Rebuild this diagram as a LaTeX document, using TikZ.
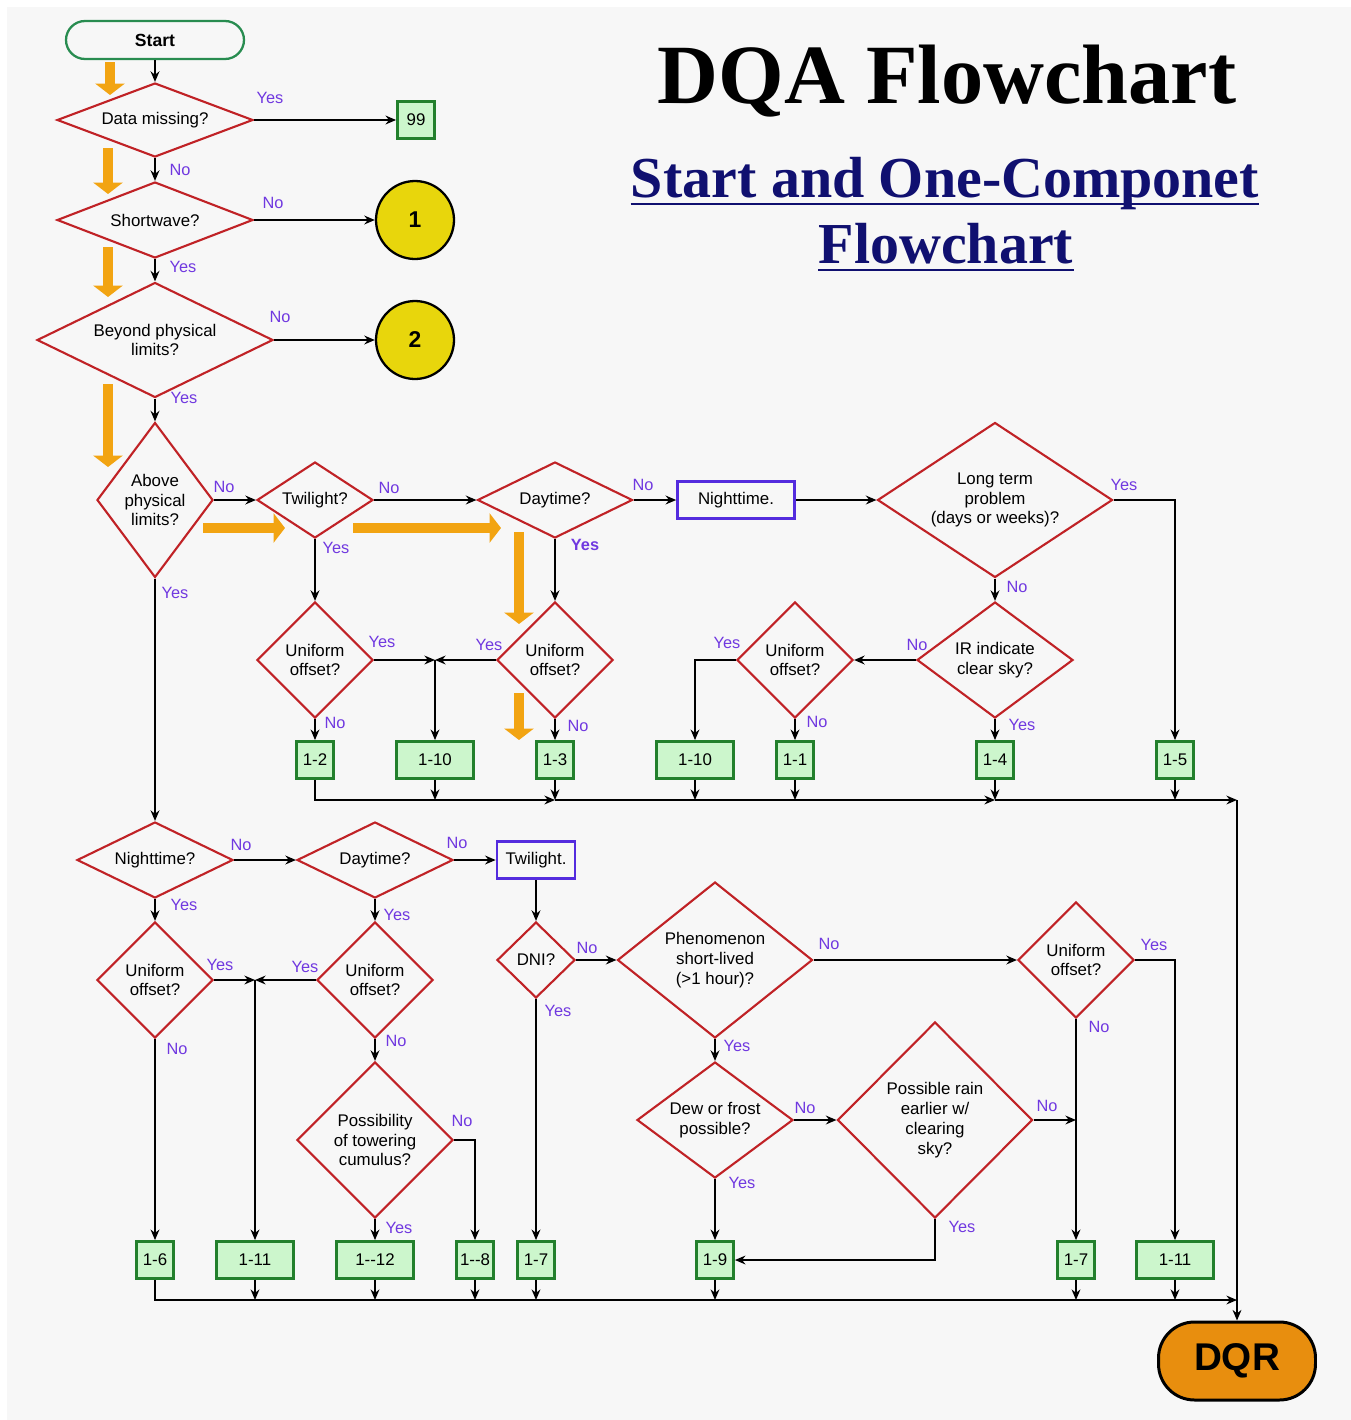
\documentclass[tikz,border=0pt]{standalone}
\usepackage{fontspec}
\setmainfont{Liberation Sans}
\newfontfamily\titlefont{Liberation Serif}
\usetikzlibrary{shapes.geometric,arrows.meta}
\definecolor{dqbg}{RGB}{247,247,247}
\definecolor{dqred}{RGB}{192,34,38}
\definecolor{dqgreen}{RGB}{34,128,44}
\definecolor{dqgreenfill}{RGB}{204,246,204}
\definecolor{dqstart}{RGB}{40,140,80}
\definecolor{dqblue}{RGB}{84,44,222}
\definecolor{dqlbl}{RGB}{112,56,224}
\definecolor{dqyellow}{RGB}{232,214,12}
\definecolor{dqorange}{RGB}{232,142,14}
\definecolor{dqhint}{RGB}{242,164,18}
\definecolor{dqnavy}{RGB}{16,16,112}
\begin{document}
\begin{tikzpicture}[x=0.02cm,y=-0.02cm,
  every node/.style={font=\fontsize{9.6}{11.3}\selectfont},
  dia/.style 2 args={diamond,draw=dqred,line width=1.2pt,inner sep=0pt,align=center,
    minimum width=#1*0.02cm,minimum height=#2*0.02cm,
    /utils/exec={\pgfmathsetmacro\dqaasp{#1/#2}},aspect=\dqaasp},
  res/.style={rectangle,draw=dqgreen,fill=dqgreenfill,line width=1.6pt,inner sep=1pt,
    minimum width=0.74cm,minimum height=0.74cm},
  wide/.style={res,minimum width=1.54cm},
  per/.style={rectangle,draw=dqblue,line width=1.5pt,inner sep=1pt,minimum height=0.75cm},
  num/.style={circle,draw=black,fill=dqyellow,line width=1.3pt,minimum size=1.56cm,
    inner sep=0pt,font=\fontsize{13}{13}\selectfont\bfseries},
  term/.style={rectangle,draw=dqstart,line width=1.3pt,rounded corners=0.38cm,
    minimum width=3.56cm,minimum height=0.76cm,font=\fontsize{10}{12}\selectfont\bfseries},
  lbl/.style={text=dqlbl,inner sep=0pt,font=\fontsize{9.3}{11}\selectfont},
  arr/.style={line width=1.3pt,-{Stealth[length=6pt,width=5pt]}},
  hint/.style={draw=dqhint,line width=5.5pt,-{Triangle[width=16.5pt,length=6.5pt]}},
  sub/.style={text=dqnavy,inner sep=0pt,anchor=base,
    font=\titlefont\bfseries\fontsize{33}{33}\selectfont}]

  \fill[white] (0,0) rectangle (1351,1420);
  \fill[dqbg] (7,7) rectangle (1351,1420);
  \useasboundingbox (0,0) rectangle (1351,1420);

  \node[anchor=base,inner sep=0pt,font=\titlefont\bfseries\fontsize{48}{48}\selectfont] (ttl) at (947,103) {DQA Flowchart};
  \node[sub] (st1) at (945,197) {Start and One-Componet};
  \node[sub] (st2) at (946,263) {Flowchart};
  \draw[dqnavy,line width=1.6pt] ([yshift=-4pt]st1.base west) -- ([yshift=-4pt]st1.base east);
  \draw[dqnavy,line width=1.6pt] ([yshift=-4pt]st2.base west) -- ([yshift=-4pt]st2.base east);

  \node[term] (start) at (155,40) {Start};
  \node[dia={196}{74}] (dm) at (155,120) {Data missing?};
  \node[res] (b99) at (416,120) {99};
  \node[dia={196}{76}] (sw) at (155,220) {Shortwave?};
  \node[num] (c1) at (415,220) {1};
  \node[dia={236}{115}] (bp) at (155,340) {Beyond physical\\limits?};
  \node[num] (c2) at (415,340) {2};
  \node[dia={116}{155}] (ap) at (155,500) {Above\\physical\\limits?};
  \node[dia={116}{76}] (tw) at (315,500) {Twilight?};
  \node[dia={155}{76}] (dt) at (555,500) {Daytime?};
  \node[per,minimum width=2.34cm] (nt) at (736,500) {Nighttime.};
  \node[dia={235}{155}] (lt) at (995,500) {Long term\\problem\\(days or weeks)?};
  \node[dia={116}{116}] (ua) at (315,660) {Uniform\\offset?};
  \node[dia={116}{116}] (ub) at (555,660) {Uniform\\offset?};
  \node[dia={116}{116}] (uc) at (795,660) {Uniform\\offset?};
  \node[dia={156}{116}] (ir) at (995,660) {IR indicate\\clear sky?};

  \node[res] (b12) at (315,760) {1-2};
  \node[wide] (b110a) at (435,760) {1-10};
  \node[res] (b13) at (555,760) {1-3};
  \node[wide] (b110b) at (695,760) {1-10};
  \node[res] (b11) at (795,760) {1-1};
  \node[res] (b14) at (995,760) {1-4};
  \node[res] (b15) at (1175,760) {1-5};

  \node[dia={156}{76}] (nq) at (155,860) {Nighttime?};
  \node[dia={156}{76}] (dq) at (375,860) {Daytime?};
  \node[per,minimum width=1.56cm] (tb) at (536,860) {Twilight.};
  \node[dia={116}{116}] (ud) at (155,980) {Uniform\\offset?};
  \node[dia={116}{116}] (ue) at (375,980) {Uniform\\offset?};
  \node[dia={78}{76}] (dni) at (536,960) {DNI?};
  \node[dia={195}{156}] (ph) at (715,960) {Phenomenon\\short-lived\\(>1 hour)?};
  \node[dia={116}{116}] (uf) at (1076,960) {Uniform\\offset?};
  \node[dia={156}{156}] (pt) at (375,1140) {Possibility\\of towering\\cumulus?};
  \node[dia={156}{116}] (dw) at (715,1120) {Dew or frost\\possible?};
  \node[dia={195}{196}] (rn) at (935,1120) {Possible rain\\earlier w/\\clearing\\sky?};

  \node[res] (b16) at (155,1260) {1-6};
  \node[wide] (b111a) at (255,1260) {1-11};
  \node[wide] (b112) at (375,1260) {1-\kern0pt-12};
  \node[res] (b18) at (475,1260) {1-\kern0pt-8};
  \node[res] (b17a) at (536,1260) {1-7};
  \node[res] (b19) at (715,1260) {1-9};
  \node[res] (b17b) at (1076,1260) {1-7};
  \node[wide] (b111b) at (1175,1260) {1-11};

  \node[rectangle,draw=black,fill=dqorange,line width=1.7pt,rounded corners=0.72cm,
    minimum width=3.14cm,minimum height=1.56cm,
    font=\fontsize{22}{22}\selectfont\bfseries] (dqr) at (1237,1361) {DQR};

  \draw[arr] (start) -- (dm);
  \draw[arr] (dm.east) -- (b99.west) node[lbl] at (270,98) {Yes};
  \draw[arr] (dm.south) -- (sw.north) node[lbl] at (180,170) {No};
  \draw[arr] (sw.east) -- (c1.west) node[lbl] at (273,203) {No};
  \draw[arr] (sw.south) -- (bp.north) node[lbl] at (183,267) {Yes};
  \draw[arr] (bp.east) -- (c2.west) node[lbl] at (280,317) {No};
  \draw[arr] (bp.south) -- (ap.north) node[lbl] at (184,398) {Yes};
  \draw[arr] (ap.east) -- (tw.west) node[lbl] at (224,487) {No};
  \draw[arr] (ap.south) -- (nq.north) node[lbl] at (175,593) {Yes};
  \draw[arr] (tw.east) -- (dt.west) node[lbl] at (389,488) {No};
  \draw[arr] (tw.south) -- (ua.north) node[lbl] at (336,548) {Yes};
  \draw[arr] (dt.east) -- (nt.west) node[lbl] at (643,485) {No};
  \draw[arr] (dt.south) -- (ub.north) node[lbl,font=\fontsize{9.3}{11}\selectfont\bfseries] at (585,545) {Yes};
  \draw[arr] (nt.east) -- (lt.west);
  \draw[arr] (lt.east) -| (b15.north) node[lbl] at (1124,485) {Yes};
  \draw[arr] (lt.south) -- (ir.north) node[lbl] at (1017,587) {No};
  \draw[arr] (ir.west) -- (uc.east) node[lbl] at (917,645) {No};
  \draw[arr] (ir.south) -- (b14.north) node[lbl] at (1022,725) {Yes};
  \draw[arr] (uc.west) -| (b110b.north) node[lbl] at (727,643) {Yes};
  \draw[arr] (uc.south) -- (b11.north) node[lbl] at (817,722) {No};
  \coordinate (ja) at (b110a.north |- ua.east);
  \draw[arr] (ua.east) -- (ja) node[lbl] at (382,642) {Yes};
  \draw[arr] (ub.west) -- (ja) node[lbl] at (489,645) {Yes};
  \draw[arr] (ja) -- (b110a.north);
  \draw[arr] (ua.south) -- (b12.north) node[lbl] at (335,723) {No};
  \draw[arr] (ub.south) -- (b13.north) node[lbl] at (578,726) {No};

  \coordinate (bus1) at (1237,800);
  \draw[arr] (b12.south) |- (b13.south |- bus1);
  \draw[arr] (b13.south |- bus1) -- (b14.south |- bus1);
  \draw[arr] (b14.south |- bus1) -- (bus1);
  \foreach \b in {b110a,b13,b110b,b11,b14,b15}
    \draw[arr] (\b.south) -- (\b.south |- bus1);
  \draw[arr] (bus1) -- (dqr.north);

  \draw[arr] (nq.east) -- (dq.west) node[lbl] at (241,845) {No};
  \draw[arr] (nq.south) -- (ud.north) node[lbl] at (184,905) {Yes};
  \draw[arr] (dq.east) -- (tb.west) node[lbl] at (457,843) {No};
  \draw[arr] (dq.south) -- (ue.north) node[lbl] at (397,915) {Yes};
  \draw[arr] (tb.south) -- (dni.north);
  \draw[arr] (dni.east) -- (ph.west) node[lbl] at (587,948) {No};
  \draw[arr] (dni.south) -- (b17a.north) node[lbl] at (558,1011) {Yes};
  \draw[arr] (ph.east) -- (uf.west) node[lbl] at (829,944) {No};
  \draw[arr] (ph.south) -- (dw.north) node[lbl] at (737,1046) {Yes};
  \draw[arr] (uf.east) -| (b111b.north) node[lbl] at (1154,945) {Yes};
  \draw[arr] (uf.south) -- (b17b.north) node[lbl] at (1099,1027) {No};
  \draw[arr] (dw.east) -- (rn.west) node[lbl] at (805,1108) {No};
  \draw[arr] (dw.south) -- (b19.north) node[lbl] at (742,1183) {Yes};
  \draw[arr] (rn.east) -- (uf.south |- rn.east) node[lbl] at (1047,1106) {No};
  \draw[arr] (rn.south) |- (b19.east) node[lbl] at (962,1227) {Yes};
  \coordinate (jb) at (b111a.north |- ud.east);
  \draw[arr] (ud.east) -- (jb) node[lbl] at (220,965) {Yes};
  \draw[arr] (ue.west) -- (jb) node[lbl] at (305,967) {Yes};
  \draw[arr] (jb) -- (b111a.north);
  \draw[arr] (ud.south) -- (b16.north) node[lbl] at (177,1049) {No};
  \draw[arr] (ue.south) -- (pt.north) node[lbl] at (396,1041) {No};
  \draw[arr] (pt.east) -| (b18.north) node[lbl] at (462,1121) {No};
  \draw[arr] (pt.south) -- (b112.north) node[lbl] at (399,1228) {Yes};

  \coordinate (bus2) at (1237,1300);
  \draw[arr] (b16.south) |- (bus2);
  \foreach \b in {b111a,b112,b18,b17a,b19,b17b,b111b}
    \draw[arr] (\b.south) -- (\b.south |- bus2);

  \foreach \x/\ya/\yb in {110/62/95,108/148/194,108/247/297,108/384/467,519/532/624,519/693/740}
    \draw[hint] (\x,\ya) -- (\x,\yb);
  \draw[hint] (203,528) -- (285,528);
  \draw[hint] (353,528) -- (501,528);
\end{tikzpicture}
\end{document}
